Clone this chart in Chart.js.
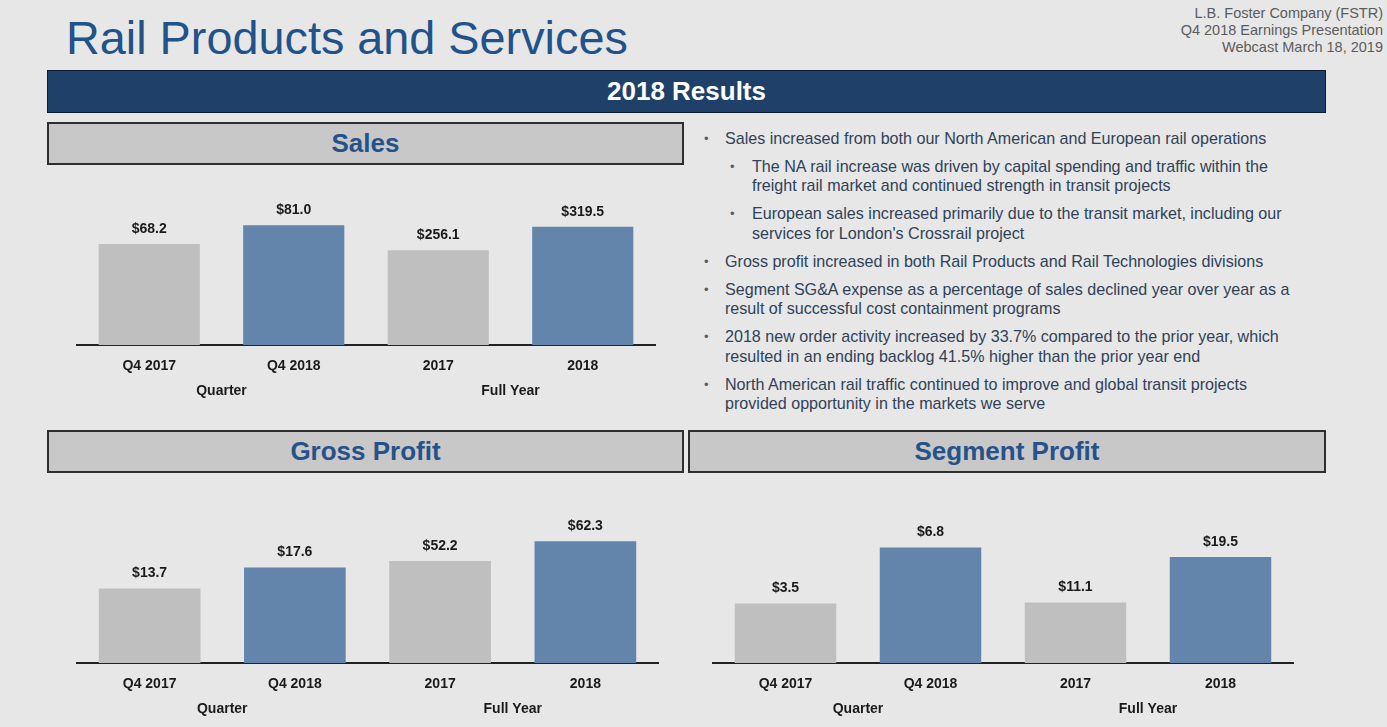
<!DOCTYPE html>
<html lang="en">
<head>
<meta charset="UTF-8"/>
<title>Rail Products and Services</title>
<script src="https://cdn.jsdelivr.net/npm/chart.js@4.4.1/dist/chart.umd.min.js"></script>
<style>
  body { margin:0; width:1387px; height:727px; background:#e7e7e7; overflow:hidden; position:relative;
         font-family:'Liberation Sans', Arial, sans-serif; }
  .abs { position:absolute; }
  #title { left:66px; top:15px; font-size:46.8px; line-height:46.8px; color:#22528a; white-space:nowrap; }
  #corner { right:4px; top:5px; font-size:14.5px; line-height:17px; color:#5c5c5c; text-align:right; }
  #band { left:47px; top:70px; width:1279px; height:43px; box-sizing:border-box; background:#1e4069;
          border:1px solid #0d1d30; color:#fff; font-weight:bold; font-size:26px;
          display:flex; align-items:center; justify-content:center; }
  .head { box-sizing:border-box; height:43px; background:#c8c8c8; border:2px solid #2e2e2e;
          color:#26528a; font-weight:bold; font-size:26px; display:flex; align-items:center; justify-content:center; }
  #notes { left:697px; top:128.5px; font-size:16.1px; line-height:19.5px; color:#2f4258; white-space:nowrap; }
  #notes p { margin:0 0 8.5px 0; position:relative; padding-left:28px; }
  #notes p.sub { padding-left:55px; }
  #notes p::before { content:'\2022'; position:absolute; left:7px; top:0; font-size:13px; color:#55606c; }
  #notes p.sub::before { left:33px; }
  canvas { position:absolute; }
</style>
</head>
<body>
<div id="title" class="abs">Rail Products and Services</div>
<div id="corner" class="abs">L.B. Foster Company (FSTR)<br>Q4 2018 Earnings Presentation<br>Webcast March 18, 2019</div>
<div id="band" class="abs">2018 Results</div>

<div class="abs head" style="left:47px;top:122px;width:637px;">Sales</div>
<div class="abs head" style="left:47px;top:430px;width:637px;">Gross Profit</div>
<div class="abs head" style="left:688px;top:430px;width:638px;">Segment Profit</div>

<div id="notes" class="abs">
  <p>Sales increased from both our North American and European rail operations</p>
  <p class="sub">The NA rail increase was driven by capital spending and traffic within the<br>freight rail market and continued strength in transit projects</p>
  <p class="sub">European sales increased primarily due to the transit market, including our<br>services for London's Crossrail project</p>
  <p>Gross profit increased in both Rail Products and Rail Technologies divisions</p>
  <p>Segment SG&amp;A expense as a percentage of sales declined year over year as a<br>result of successful cost containment programs</p>
  <p>2018 new order activity increased by 33.7% compared to the prior year, which<br>resulted in an ending backlog 41.5% higher than the prior year end</p>
  <p>North American rail traffic continued to improve and global transit projects<br>provided opportunity in the markets we serve</p>
</div>

<canvas id="sales" width="640" height="215" style="left:47px;top:185px;"></canvas>
<canvas id="gross" width="640" height="228" style="left:47px;top:490px;"></canvas>
<canvas id="segment" width="640" height="228" style="left:690px;top:490px;"></canvas>

<script>
// values in $ millions
const categories = ['Q4 2017', 'Q4 2018', '2017', '2018'];
const groups = ['Quarter', 'Full Year'];
const salesQuarter = [68.2, 81.0];
const salesYear = [256.1, 319.5];
const grossQuarter = [13.7, 17.6];
const grossYear = [52.2, 62.3];
const segmentQuarter = [3.5, 6.8];
const segmentYear = [11.1, 19.5];

const GREY = '#bfbfbf';
const BLUE = '#6384ab';
const barColors = [GREY, BLUE, GREY, BLUE];
const FONT = "'Liberation Sans', Arial, sans-serif";

Chart.defaults.font.family = FONT;

// "$xx.x" above every bar
const valueLabels = {
  id: 'valueLabels',
  afterDatasetsDraw(chart) {
    const ctx = chart.ctx;
    ctx.save();
    ctx.font = 'bold 14px ' + FONT;
    ctx.fillStyle = '#1a1a1a';
    ctx.textAlign = 'center';
    ctx.textBaseline = 'middle';
    chart.data.datasets.forEach((ds, i) => {
      chart.getDatasetMeta(i).data.forEach((bar, j) => {
        const v = ds.data[j];
        if (v == null) return;
        ctx.fillText('$' + v.toFixed(1), bar.x, bar.y - 15);
      });
    });
    ctx.restore();
  }
};

function makePanel(id, quarter, year, qMax, yMax, pad) {
  new Chart(document.getElementById(id), {
    type: 'bar',
    data: {
      labels: categories,
      datasets: [
        { data: [...quarter, null, null], yAxisID: 'yQ', backgroundColor: barColors },
        { data: [null, null, ...year], yAxisID: 'yF', backgroundColor: barColors }
      ]
    },
    options: {
      responsive: false,
      animation: false,
      layout: { padding: pad },
      datasets: { bar: { grouped: false, barPercentage: 0.7, categoryPercentage: 1.0 } },
      plugins: { legend: { display: false }, tooltip: { enabled: false } },
      scales: {
        x: {
          weight: 0,
          grid: { display: false, drawTicks: false },
          border: { display: true, color: '#222', width: 2 },
          ticks: { color: '#1a1a1a', font: { size: 14, weight: 'bold' }, padding: 13, maxRotation: 0, autoSkip: false },
          afterFit(s) { s.height = 30; }
        },
        x2: {
          type: 'category',
          labels: groups,
          position: 'bottom',
          offset: true,
          weight: 1,
          grid: { display: false, drawTicks: false },
          border: { display: false },
          ticks: { color: '#1a1a1a', font: { size: 14, weight: 'bold' }, padding: 8, maxRotation: 0 },
          afterFit(s) { s.height = 25; }
        },
        yQ: { display: false, min: 0, max: qMax },
        yF: { display: false, min: 0, max: yMax }
      }
    },
    plugins: [valueLabels]
  });
}

makePanel('sales', salesQuarter, salesYear, 98, 392, { left: 30, right: 32, top: 15, bottom: 0 });
makePanel('gross', grossQuarter, grossYear, 29.45, 81.8, { left: 30, right: 29, top: 13, bottom: 0 });
makePanel('segment', segmentQuarter, segmentYear, 9.43, 29.4, { left: 23, right: 37, top: 13, bottom: 0 });
</script>
</body>
</html>
